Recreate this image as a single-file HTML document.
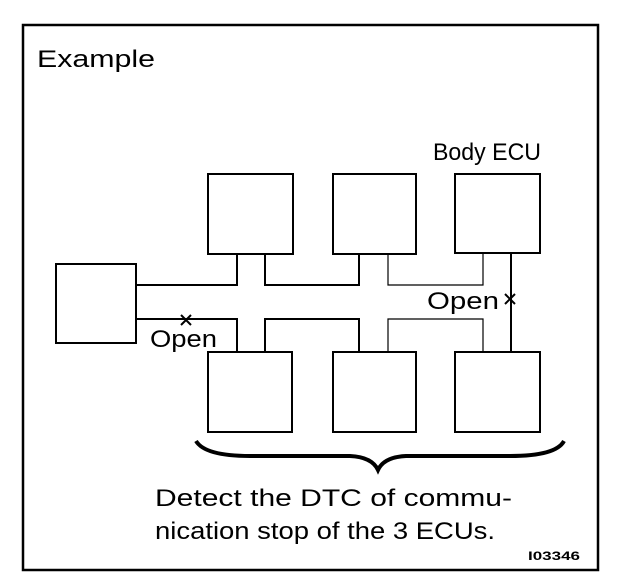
<!DOCTYPE html>
<html><head><meta charset="utf-8"><style>
html,body{margin:0;padding:0;background:#fff;}
svg{display:block}
text{font-family:"Liberation Sans",Arial,sans-serif;fill:#000}
</style></head><body>
<svg width="624" height="584" viewBox="0 0 624 584" xmlns="http://www.w3.org/2000/svg">
<rect x="23" y="25" width="575" height="545" fill="none" stroke="#000" stroke-width="2.5"/>
<text x="37" y="67" font-size="24" textLength="118" lengthAdjust="spacingAndGlyphs">Example</text>
<text x="433" y="160" font-size="24" textLength="108" lengthAdjust="spacingAndGlyphs">Body ECU</text>
<g fill="none" stroke="#000" stroke-width="2">
<rect x="56" y="264" width="80" height="79"/>
<rect x="208" y="174" width="85" height="80"/>
<rect x="333" y="174" width="83" height="80"/>
<rect x="455" y="174" width="85" height="79"/>
<rect x="208" y="352" width="84" height="80"/>
<rect x="333" y="352" width="83" height="80"/>
<rect x="455" y="352" width="85" height="80"/>
<polyline points="136,285 237,285 237,254"/>
<polyline points="265,254 265,285 359,285 359,254"/>
<polyline points="388,254 388,285 483,285 483,253" stroke-width="1.2"/>
<line x1="511" y1="253" x2="511" y2="352"/>
<polyline points="136,319 237,319 237,352"/>
<polyline points="265,352 265,319 359,319 359,352"/>
<polyline points="388,352 388,319 483,319 483,352" stroke-width="1.2"/>
<path d="M196,441 Q205,456 250,456 L350,456 Q372,457 378,470 Q384,457 406,456 L510,456 Q556,456 564,441" stroke-width="4"/>
<path d="M181,315 L191,325 M191,315 L181,325" stroke-width="2"/>
<path d="M505,294 L515,304 M515,294 L505,304" stroke-width="2"/>
</g>
<text x="150" y="347" font-size="24" textLength="67" lengthAdjust="spacingAndGlyphs">Open</text>
<text x="427" y="309" font-size="24" textLength="72" lengthAdjust="spacingAndGlyphs">Open</text>
<text x="155" y="506" font-size="24" textLength="357" lengthAdjust="spacingAndGlyphs">Detect the DTC of commu-</text>
<text x="155" y="539" font-size="24" textLength="340" lengthAdjust="spacingAndGlyphs">nication stop of the 3 ECUs.</text>
<text x="528" y="560" font-size="12" font-weight="bold" textLength="52" lengthAdjust="spacingAndGlyphs">I03346</text>
</svg>
</body></html>
